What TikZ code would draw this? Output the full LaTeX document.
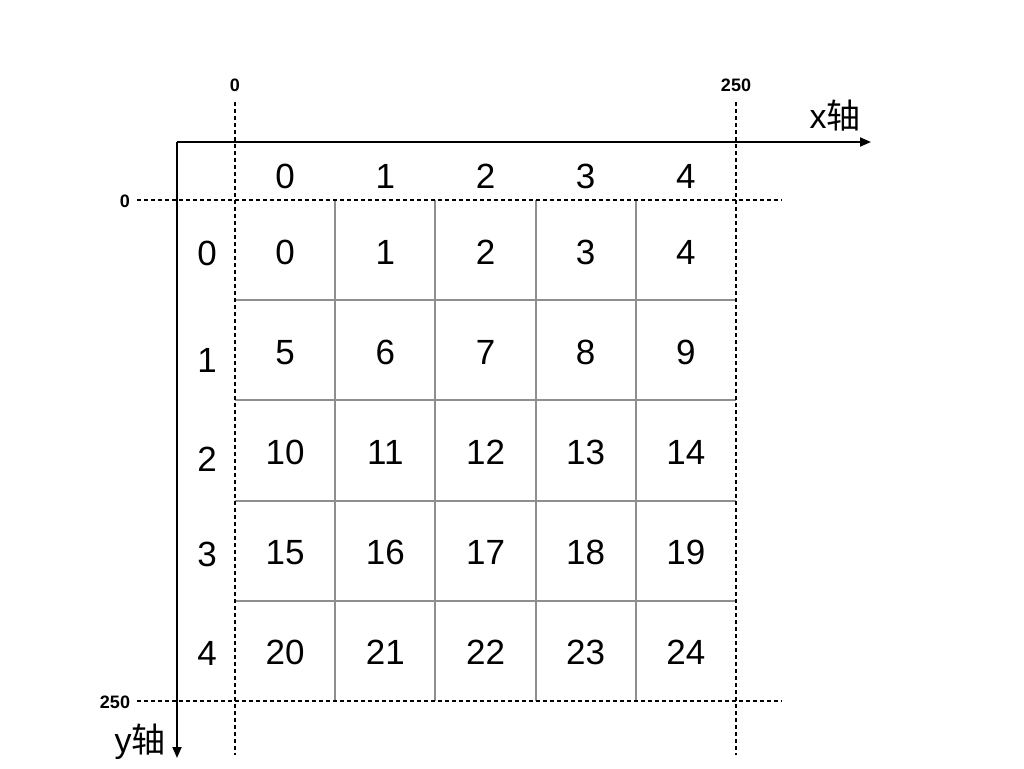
\documentclass[tikz,border=0pt]{standalone}
\usepackage{fontspec}
\setmainfont{Liberation Sans}
\newfontfamily\cjk{Noto Sans CJK SC}
\usetikzlibrary{arrows.meta}
\definecolor{gridgray}{RGB}{142,142,142}
\begin{document}
\begin{tikzpicture}[x=1pt,y=-1pt,
  num/.style={font=\fontsize{35}{40}\selectfont, inner sep=0pt, anchor=base},
  ticklabel/.style={font=\bfseries\fontsize{18}{20}\selectfont, inner sep=0pt},
  axislabel/.style={font=\fontsize{34}{40}\selectfont, inner sep=0pt},
  gridline/.style={draw=gridgray, line width=2pt},
  guide/.style={line width=1.8pt, dash pattern=on 4pt off 3pt},
  axisline/.style={line width=1.8pt, -{Triangle[length=11pt,width=9pt]}}]
\useasboundingbox (0,0) rectangle (1024,768);
% grid internal lines
\foreach \i in {1,...,4}{
  \draw[gridline] ({235+100.2*\i},200) -- ({235+100.2*\i},701);
  \draw[gridline] (235,{200+100.2*\i}) -- (736,{200+100.2*\i});
}
% cells
\foreach \r in {0,...,4}{
  \foreach \c in {0,...,4}{
    \pgfmathtruncatemacro{\n}{5*\r+\c}
    \node[num] (c\n) at ({285.1+100.2*\c},{264+100.2*\r}) {\n};
  }
}
% column headers
\foreach \c in {0,...,4}{
  \node[num] (h\c) at ({285.1+100.2*\c},188) {\c};
}
% row headers
\node[num] (r0) at (207,265) {0};
\node[num] (r1) at (207,372) {1};
\node[num] (r2) at (207,471) {2};
\node[num] (r3) at (207,566) {3};
\node[num] (r4) at (207,665) {4};
% guides
\coordinate (v1a) at (235,102); \coordinate (v1b) at (235,755);
\coordinate (v2a) at (736,102); \coordinate (v2b) at (736,755);
\coordinate (h1a) at (137,200); \coordinate (h1b) at (782,200);
\coordinate (h2a) at (137,701); \coordinate (h2b) at (782,701);
\draw[guide] (v1a) -- (v1b);
\draw[guide] (v2a) -- (v2b);
\draw[guide] (h1a) -- (h1b);
\draw[guide] (h2a) -- (h2b);
% tick labels
\node[ticklabel] (tx0) at (235,85) {0};
\node[ticklabel] (tx250) at (736,85) {250};
\node[ticklabel] (ty0) at (125,201) {0};
\node[ticklabel] (ty250) at (115,702) {250};
% axes
\coordinate (O) at (177,142);
\coordinate (XE) at (871,142);
\coordinate (YE) at (177,758);
\draw[axisline] (O) -- (XE);
\draw[axisline] (O) -- (YE);
\node[axislabel] (xl) at (835,116) {x\cjk 轴};
\node[axislabel] (yl) at (140,742) {y\cjk 轴};
\end{tikzpicture}
\end{document}
